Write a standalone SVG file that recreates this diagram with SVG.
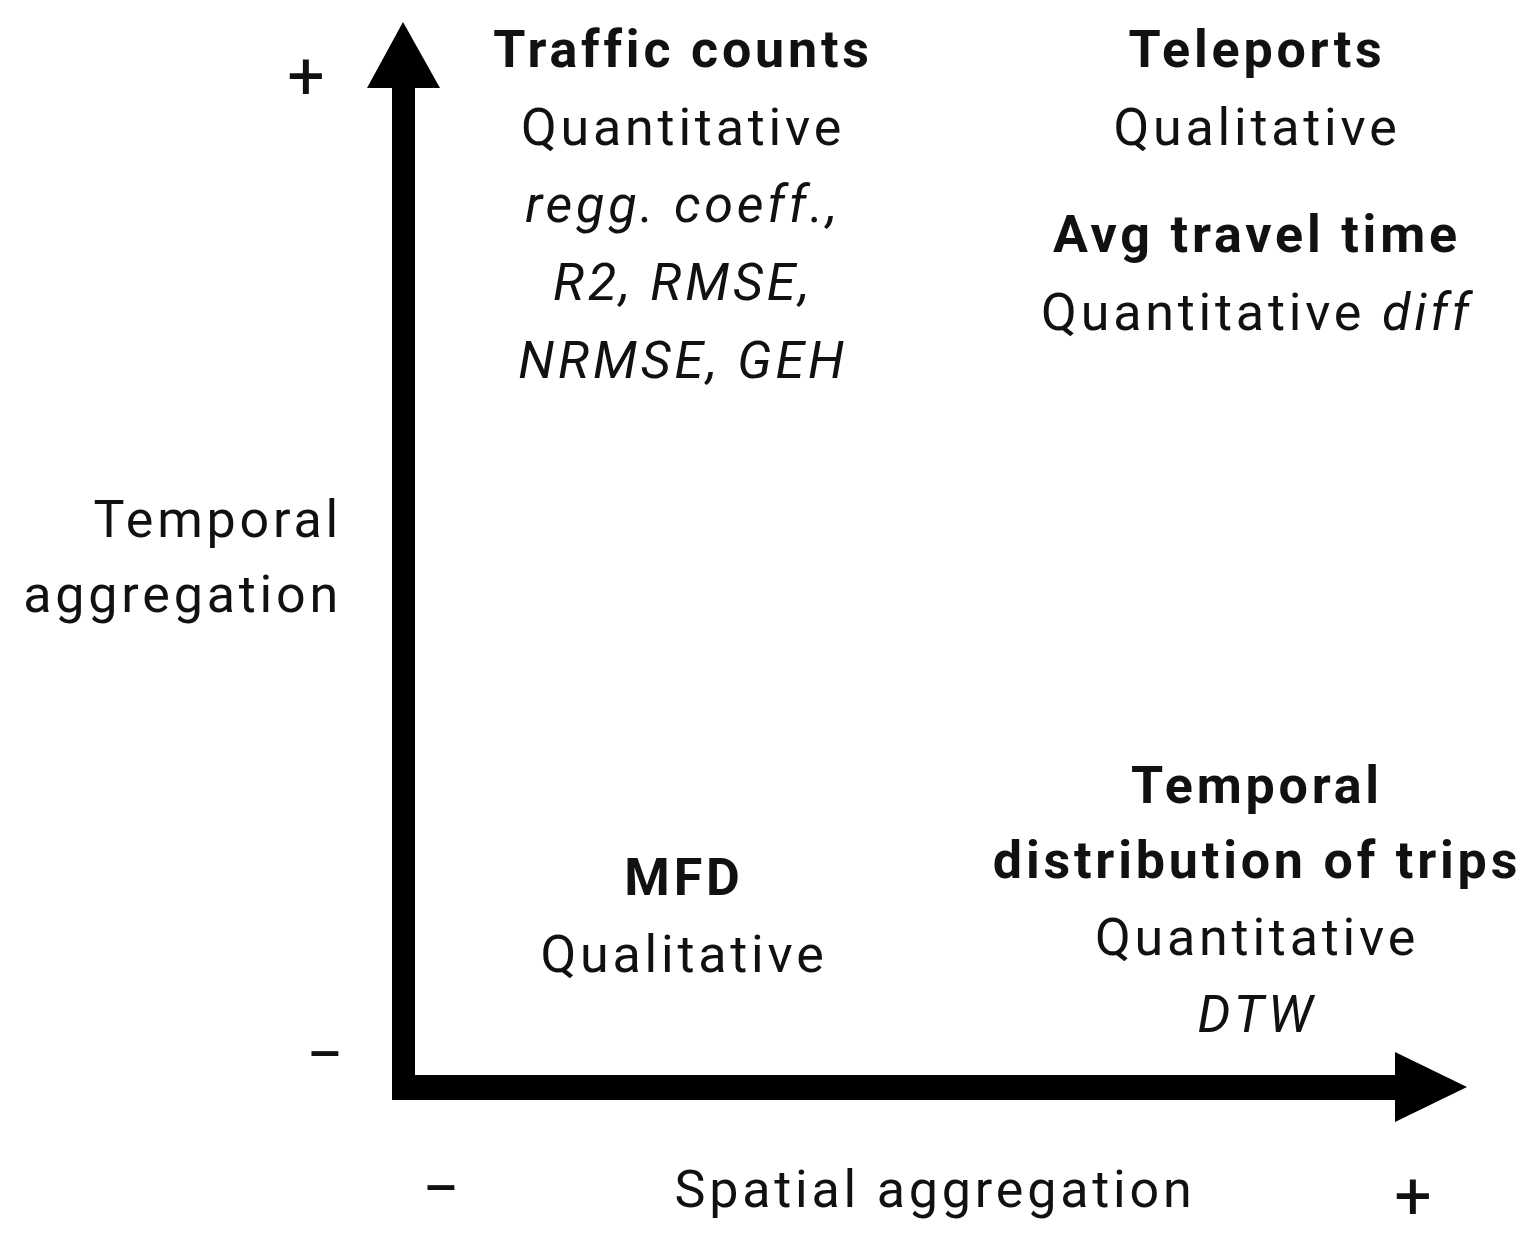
<svg xmlns="http://www.w3.org/2000/svg" width="1534" height="1251" viewBox="0 0 1534 1251">
<style>
text{font-family:Roboto,"Liberation Sans",sans-serif;font-size:52px;letter-spacing:3.8px;fill:#111;text-anchor:middle}
.b{font-weight:bold}
.i{font-style:italic}
.r{text-anchor:end}
.s{font-size:66px;letter-spacing:0}
</style>
<rect width="1534" height="1251" fill="#fff"/>
<g id="axes">
<rect x="392" y="80" width="23" height="1020" fill="#000"/>
<rect x="392" y="1075" width="1010" height="25" fill="#000"/>
<polygon points="403,22 440,88 367,88" fill="#000"/>
<polygon points="1467,1087 1395,1052 1395,1122" fill="#000"/>
<text class="s" x="306" y="99">+</text>
<text class="s" x="325" y="1077">−</text>
<text class="s" x="441" y="1211">−</text>
<text class="s" x="1413" y="1219">+</text>
<text class="r" x="342" y="537">Temporal</text>
<text class="r" x="342" y="612">aggregation</text>
<text x="935" y="1207">Spatial aggregation</text>
</g>
<g id="traffic">
<text class="b" x="683" y="67">Traffic counts</text>
<text x="683" y="145">Quantitative</text>
<text class="i" x="683" y="222">regg. coeff.,</text>
<text class="i" x="683" y="300">R2, RMSE,</text>
<text class="i" x="683" y="378">NRMSE, GEH</text>
</g>
<g id="teleports">
<text class="b" x="1257" y="67">Teleports</text>
<text x="1257" y="145">Qualitative</text>
</g>
<g id="avgtravel">
<text class="b" x="1257" y="252">Avg travel time</text>
<text x="1257" y="330">Quantitative <tspan class="i">diff</tspan></text>
</g>
<g id="temporal">
<text class="b" x="1257" y="803">Temporal</text>
<text class="b" x="1257" y="878">distribution of trips</text>
<text x="1257" y="955">Quantitative</text>
<text class="i" x="1257" y="1032">DTW</text>
</g>
<g id="mfd">
<text class="b" x="684" y="895">MFD</text>
<text x="684" y="972">Qualitative</text>
</g>
</svg>
